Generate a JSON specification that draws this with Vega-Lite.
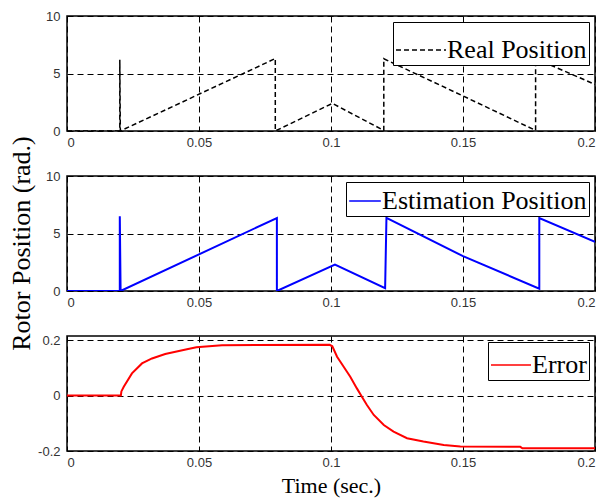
{
  "$schema": "https://vega.github.io/schema/vega-lite/v6.json",
  "background": "white",
  "padding": {"left": 7, "top": 9, "right": 5, "bottom": 5},
  "spacing": 45,
  "bounds": "flush",
  "config": {
    "view": {"stroke": "black", "strokeWidth": 1.5},
    "axis": {
      "grid": true, "gridColor": "black", "gridDash": [6, 4], "gridWidth": 1, "gridOpacity": 1,
      "domain": false, "ticks": false,
      "labelFont": "Liberation Sans", "labelFontSize": 13, "labelColor": "#333",
      "titleFont": "Liberation Serif", "titleFontWeight": "normal", "titleColor": "black"
    },
    "legend": {
      "orient": "top-right", "offset": 6, "title": null, "symbolType": "stroke",
      "labelFont": "Liberation Serif", "labelFontSize": 26, "labelColor": "black",
      "labelLimit": 400, "labelOffset": 0, "strokeColor": "black", "fillColor": "white",
      "padding": 2, "symbolStrokeWidth": 1.5
    }
  },
  "datasets": {
    "real": [
      {"i": 0, "t": 0, "v": 0, "series": "Real Position"},
      {"i": 1, "t": 0.02, "v": 0, "series": "Real Position"},
      {"i": 2, "t": 0.02, "v": 6.2, "series": "Real Position"},
      {"i": 3, "t": 0.0202, "v": 0, "series": "Real Position"},
      {"i": 4, "t": 0.0789, "v": 6.3, "series": "Real Position"},
      {"i": 5, "t": 0.0789, "v": 0, "series": "Real Position"},
      {"i": 6, "t": 0.1005, "v": 2.4, "series": "Real Position"},
      {"i": 7, "t": 0.12, "v": 0.05, "series": "Real Position"},
      {"i": 8, "t": 0.12, "v": 6.28, "series": "Real Position"},
      {"i": 9, "t": 0.15, "v": 3.05, "series": "Real Position"},
      {"i": 10, "t": 0.1775, "v": 0.05, "series": "Real Position"},
      {"i": 11, "t": 0.1775, "v": 6.3, "series": "Real Position"},
      {"i": 12, "t": 0.2, "v": 4.05, "series": "Real Position"}
    ],
    "est": [
      {"i": 0, "t": 0, "v": 0, "series": "Estimation Position"},
      {"i": 1, "t": 0.02, "v": 0, "series": "Estimation Position"},
      {"i": 2, "t": 0.02, "v": 6.5, "series": "Estimation Position"},
      {"i": 3, "t": 0.0203, "v": 0, "series": "Estimation Position"},
      {"i": 4, "t": 0.0795, "v": 6.35, "series": "Estimation Position"},
      {"i": 5, "t": 0.0795, "v": 0, "series": "Estimation Position"},
      {"i": 6, "t": 0.1015, "v": 2.3, "series": "Estimation Position"},
      {"i": 7, "t": 0.1205, "v": 0.25, "series": "Estimation Position"},
      {"i": 8, "t": 0.121, "v": 6.36, "series": "Estimation Position"},
      {"i": 9, "t": 0.15, "v": 3.03, "series": "Estimation Position"},
      {"i": 10, "t": 0.1789, "v": 0.2, "series": "Estimation Position"},
      {"i": 11, "t": 0.1789, "v": 6.35, "series": "Estimation Position"},
      {"i": 12, "t": 0.2, "v": 4.27, "series": "Estimation Position"}
    ],
    "err": [
      {"i": 0, "t": 0, "v": 0, "series": "Error"},
      {"i": 1, "t": 0.0204, "v": 0, "series": "Error"},
      {"i": 2, "t": 0.0206, "v": 0.015, "series": "Error"},
      {"i": 3, "t": 0.0215, "v": 0.032, "series": "Error"},
      {"i": 4, "t": 0.0246, "v": 0.08, "series": "Error"},
      {"i": 5, "t": 0.0284, "v": 0.116, "series": "Error"},
      {"i": 6, "t": 0.0322, "v": 0.134, "series": "Error"},
      {"i": 7, "t": 0.0372, "v": 0.15, "series": "Error"},
      {"i": 8, "t": 0.045, "v": 0.166, "series": "Error"},
      {"i": 9, "t": 0.049, "v": 0.174, "series": "Error"},
      {"i": 10, "t": 0.0587, "v": 0.182, "series": "Error"},
      {"i": 11, "t": 0.0995, "v": 0.183, "series": "Error"},
      {"i": 12, "t": 0.1005, "v": 0.178, "series": "Error"},
      {"i": 13, "t": 0.1023, "v": 0.14, "series": "Error"},
      {"i": 14, "t": 0.1048, "v": 0.104, "series": "Error"},
      {"i": 15, "t": 0.1073, "v": 0.068, "series": "Error"},
      {"i": 16, "t": 0.1098, "v": 0.026, "series": "Error"},
      {"i": 17, "t": 0.1117, "v": -0.004, "series": "Error"},
      {"i": 18, "t": 0.1136, "v": -0.034, "series": "Error"},
      {"i": 19, "t": 0.1162, "v": -0.07, "series": "Error"},
      {"i": 20, "t": 0.12, "v": -0.106, "series": "Error"},
      {"i": 21, "t": 0.1237, "v": -0.13, "series": "Error"},
      {"i": 22, "t": 0.1288, "v": -0.154, "series": "Error"},
      {"i": 23, "t": 0.135, "v": -0.166, "series": "Error"},
      {"i": 24, "t": 0.1427, "v": -0.178, "series": "Error"},
      {"i": 25, "t": 0.149, "v": -0.184, "series": "Error"},
      {"i": 26, "t": 0.1717, "v": -0.185, "series": "Error"},
      {"i": 27, "t": 0.1725, "v": -0.19, "series": "Error"},
      {"i": 28, "t": 0.2, "v": -0.19, "series": "Error"}
    ]
  },
  "vconcat": [
    {
      "width": 528, "height": 115,
      "data": {"name": "real"},
      "mark": {"type": "line", "strokeDash": [5, 3], "strokeWidth": 1.5, "clip": true},
      "encoding": {
        "x": {"field": "t", "type": "quantitative", "scale": {"domain": [0, 0.2], "nice": false, "zero": false},
              "axis": {"values": [0, 0.05, 0.1, 0.15, 0.2], "labelExpr": "'' + datum.value", "title": null, "labelPadding": 5}},
        "y": {"field": "v", "type": "quantitative", "scale": {"domain": [0, 10], "nice": false},
              "axis": {"values": [0, 5, 10], "labelExpr": "'' + datum.value", "title": null, "labelPadding": 7}},
        "color": {"field": "series", "type": "nominal", "scale": {"domain": ["Real Position"], "range": ["black"]},
                  "legend": {"symbolSize": 2500, "symbolDash": [5, 3]}},
        "order": {"field": "i", "type": "quantitative"}
      }
    },
    {
      "width": 528, "height": 115,
      "data": {"name": "est"},
      "mark": {"type": "line", "strokeWidth": 2, "clip": true},
      "encoding": {
        "x": {"field": "t", "type": "quantitative", "scale": {"domain": [0, 0.2], "nice": false, "zero": false},
              "axis": {"values": [0, 0.05, 0.1, 0.15, 0.2], "labelExpr": "'' + datum.value", "title": null, "labelPadding": 5}},
        "y": {"field": "v", "type": "quantitative", "scale": {"domain": [0, 10], "nice": false},
              "axis": {"values": [0, 5, 10], "labelExpr": "'' + datum.value", "title": "Rotor Position (rad.)",
                       "titleFontSize": 26, "titleX": -46, "titleY": 67, "titleBaseline": "middle", "titleAngle": -90, "titleAlign": "center", "labelPadding": 7}},
        "color": {"field": "series", "type": "nominal", "scale": {"domain": ["Estimation Position"], "range": ["#0000ff"]},
                  "legend": {"symbolSize": 1000}},
        "order": {"field": "i", "type": "quantitative"}
      }
    },
    {
      "width": 528, "height": 115,
      "data": {"name": "err"},
      "mark": {"type": "line", "strokeWidth": 2, "clip": true},
      "encoding": {
        "x": {"field": "t", "type": "quantitative", "scale": {"domain": [0, 0.2], "nice": false, "zero": false},
              "axis": {"values": [0, 0.05, 0.1, 0.15, 0.2], "labelExpr": "'' + datum.value", "title": "Time (sec.)",
                       "titleFontSize": 22, "titlePadding": 6, "labelPadding": 5}},
        "y": {"field": "v", "type": "quantitative", "scale": {"domain": [-0.2, 0.215], "nice": false, "zero": false},
              "axis": {"values": [-0.2, 0, 0.2], "labelExpr": "'' + datum.value", "title": null, "labelPadding": 7}},
        "color": {"field": "series", "type": "nominal", "scale": {"domain": ["Error"], "range": ["#ff0000"]},
                  "legend": {"symbolSize": 1600}},
        "order": {"field": "i", "type": "quantitative"}
      }
    }
  ],
  "resolve": {"scale": {"color": "independent"}, "legend": {"color": "independent"}}
}
